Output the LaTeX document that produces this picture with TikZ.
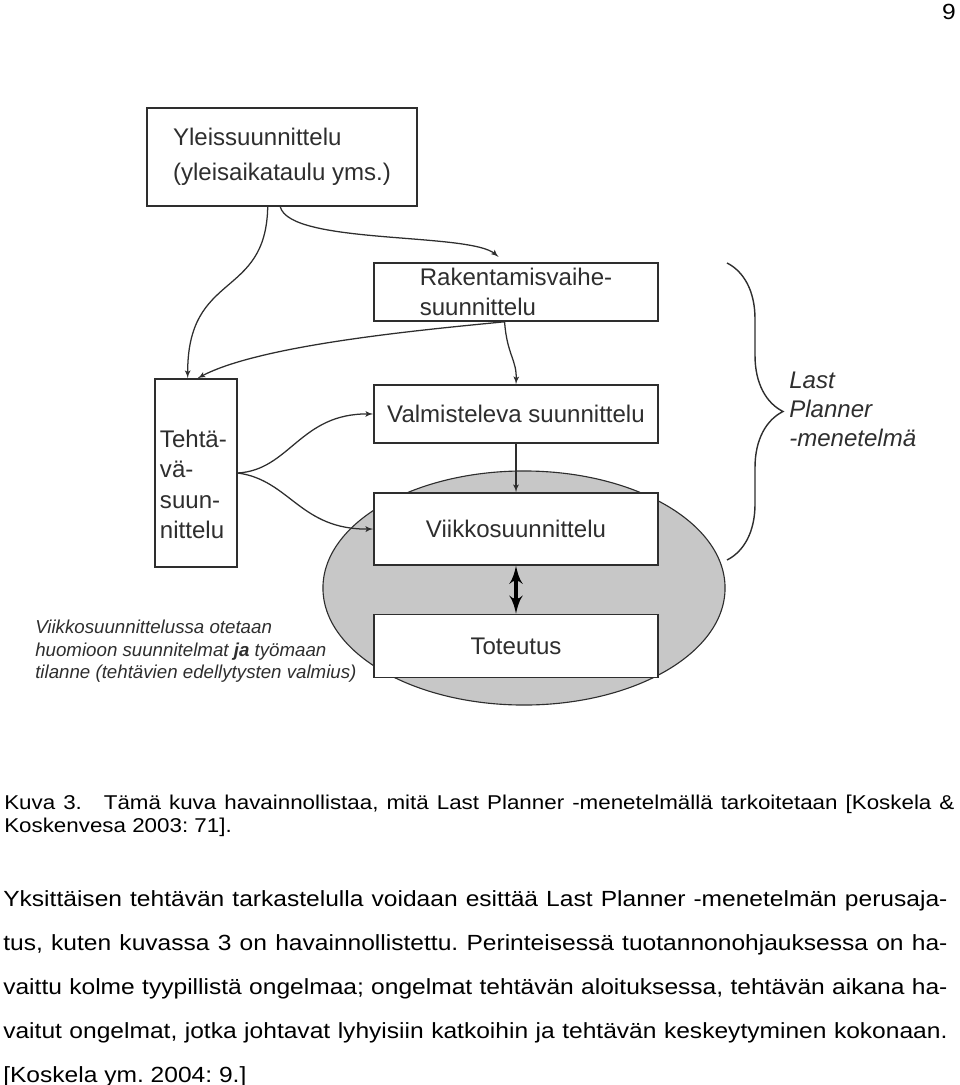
\documentclass[tikz,border=0pt]{standalone}
\usepackage{fontspec}
\setmainfont{Liberation Sans}
\newfontfamily\widefont{Liberation Sans}[FakeStretch=1.12]
\usepackage{tikz}
\usetikzlibrary{arrows, decorations.pathreplacing}
\definecolor{ink}{gray}{0.18}
\definecolor{shade}{gray}{0.78}
\hyphenpenalty=10000
\exhyphenpenalty=10000
\frenchspacing
\tikzstyle{pbox} = [rectangle, draw=ink, line width=1.1pt, fill=white, text=ink, minimum width=7.1cm, align=left, font=\fontsize{17.1}{21.5}\selectfont]
\tikzstyle{line} = [draw=ink, line width=0.9pt, -latex']
\tikzstyle{bigline} = [draw=black, line width=3.4pt, latex'-latex']
\tikzstyle{note} = [text=ink, align=left, inner sep=0pt]
\tikzstyle{pagetext} = [anchor=north west, inner sep=0pt, align=justify]

\begin{document}
\begin{tikzpicture}[x=0.025cm, y=-0.025cm]
    \useasboundingbox (0,0) rectangle (960,1085);

    % shaded area round the weekly cycle
    \filldraw[fill=shade, draw=ink, line width=0.8pt] (524,588) ellipse [x radius=5.025cm, y radius=2.925cm];

    \node[pbox, minimum width=6.75cm, minimum height=2.45cm](yleis) at (282,157) {Yleissuunnittelu\\[3pt](yleisaikataulu yms.)};
    \node[pbox, minimum height=1.45cm](rakent) at (516,292) {Rakentamisvaihe-\\suunnittelu};
    \node[pbox, minimum height=1.45cm](valmis) at (516,414) {Valmisteleva suunnittelu};
    \node[pbox, minimum height=1.8cm](viikko) at (516,529) {Viikkosuunnittelu};
    \node[pbox, minimum height=1.575cm](toteutus) at (516,646) {Toteutus};
    \node[pbox, minimum width=2.05cm, minimum height=4.7cm, text width=1.8cm, inner xsep=0.1cm](tehtava) at (196,473) {\rule{0pt}{1.0cm}Tehtä-\\vä-\\suun-\\nittelu};

    \path[line] (yleis.254) .. controls (266,300) and (187,270) .. (tehtava.95);
    \path[line, shorten >=0.2cm] (yleis.268) .. controls (290,245) and (470,232) .. (rakent.111);
    \path[line] (rakent.249) .. controls (420,330) and (260,345) .. (tehtava.89);
    \path[line] (rakent.249) .. controls (507,355) and (517,360) .. (valmis.north);
    \path[line] (tehtava.east) .. controls (290,470) and (300,413) .. (valmis.west);
    \path[line] (tehtava.east) .. controls (290,480) and (300,530) .. (viikko.west);
    \path[line] (valmis.south) -- (viikko.north);
    \path[bigline] (viikko.south) -- (toteutus.north);

    % brace for the Last Planner part
    \coordinate (bracetop) at (727,263);
    \coordinate (bracebot) at (727,560);
    \draw[ink, line width=1pt, decorate, decoration={brace, amplitude=1.4cm}] (bracetop) -- (bracebot);
    \node[note, anchor=west, font=\fontsize{17.1}{20.6}\selectfont\itshape](lastpl) at (789,409) {Last\\Planner\\-menetelmä};

    \node[note, anchor=north west, font=\fontsize{13.3}{16}\selectfont\itshape](huom) at (35,620) {Viikkosuunnittelussa otetaan\\huomioon suunnitelmat \textbf{ja} työmaan\\tilanne (tehtävien edellytysten valmius)};

    % page number, caption and body text
    \node[anchor=north east, inner sep=0pt, font=\widefont\fontsize{15.6}{18}\selectfont](sivu) at (956,4) {9};
    \node[pagetext, text width=23.75cm, font=\widefont\fontsize{14.2}{16.4}\selectfont](kuva) at (4,795) {Kuva 3.\hspace{1.1em}Tämä kuva havainnollistaa, mitä Last Planner -menetelmällä tarkoitetaan [Koskela \&\linebreak Koskenvesa 2003: 71].};
    \node[pagetext, text width=23.6cm, font=\widefont\fontsize{15.6}{31.3}\selectfont](kappale) at (3,890) {Yksittäisen tehtävän tarkastelulla voidaan esittää Last Planner -menetelmän perusaja-\linebreak tus, kuten kuvassa 3 on havainnollistettu. Perinteisessä tuotannonohjauksessa on ha-\linebreak vaittu kolme tyypillistä ongelmaa; ongelmat tehtävän aloituksessa, tehtävän aikana ha-\linebreak vaitut ongelmat, jotka johtavat lyhyisiin katkoihin ja tehtävän keskeytyminen kokonaan.\linebreak{}[Koskela ym. 2004: 9.]};
\end{tikzpicture}
\end{document}
